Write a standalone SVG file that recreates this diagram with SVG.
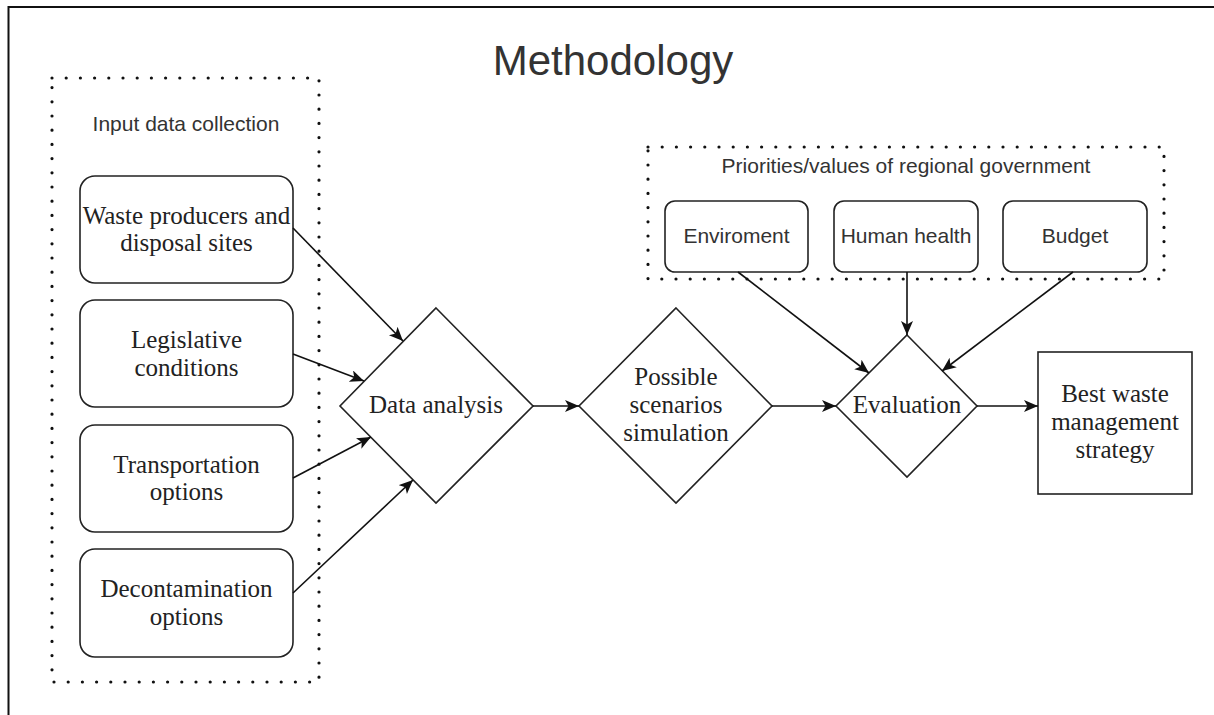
<svg xmlns="http://www.w3.org/2000/svg" width="1214" height="715" viewBox="0 0 1214 715">
<style>
.frame{fill:none;stroke:#111;stroke-width:2}
.dot{fill:none;stroke:#111;stroke-width:3.2;stroke-linecap:round;stroke-dasharray:0 14.2}
.box{fill:#fff;stroke:#222;stroke-width:1.6}
.serif{font-family:"Liberation Serif","Times New Roman",serif;font-size:25px;fill:#222;text-anchor:middle}
.sans{font-family:"Liberation Sans",Arial,sans-serif;fill:#333;text-anchor:middle}
.conn{fill:none;stroke:#111;stroke-width:1.6}
</style>
<defs>
<marker id="arr" markerUnits="userSpaceOnUse" markerWidth="16" markerHeight="14" refX="14" refY="6" orient="auto">
<path d="M0,0 L14,6 L0,12 L3.5,6 Z" fill="#111"/>
</marker>
</defs>
<rect width="1214" height="715" fill="#fff"/>
<path class="frame" d="M8.5,715 V7 H1214"/>
<text class="sans" x="613" y="75" font-size="42" fill="#111">Methodology</text>

<g id="input-group">
<rect class="dot" x="52" y="78" width="267" height="604"/>
<text class="sans" x="186" y="131" font-size="21">Input data collection</text>
</g>
<g id="priorities-group">
<rect class="dot" x="648" y="147" width="516" height="132"/>
<text class="sans" x="906" y="173" font-size="21" fill="#222">Priorities/values of regional government</text>
</g>

<g id="waste">
<rect class="box" x="80" y="176" width="213" height="107" rx="15"/>
<text class="serif" x="186.5" y="223.5">Waste producers and</text>
<text class="serif" x="186.5" y="250.5">disposal sites</text>
</g>
<g id="legislative">
<rect class="box" x="80" y="300" width="213" height="107" rx="15"/>
<text class="serif" x="186.5" y="348">Legislative</text>
<text class="serif" x="186.5" y="376">conditions</text>
</g>
<g id="transportation">
<rect class="box" x="80" y="425" width="213" height="107" rx="15"/>
<text class="serif" x="186.5" y="473">Transportation</text>
<text class="serif" x="186.5" y="500">options</text>
</g>
<g id="decontamination">
<rect class="box" x="80" y="549" width="213" height="108" rx="15"/>
<text class="serif" x="186.5" y="597">Decontamination</text>
<text class="serif" x="186.5" y="625">options</text>
</g>

<g id="data-analysis">
<polygon class="box" points="436,308 533,406 436,503 340,406"/>
<text class="serif" x="436" y="413">Data analysis</text>
</g>
<g id="scenarios">
<polygon class="box" points="676,308 772,406 676,503 579,406"/>
<text class="serif" x="676" y="385">Possible</text>
<text class="serif" x="676" y="413">scenarios</text>
<text class="serif" x="676" y="441">simulation</text>
</g>
<g id="evaluation">
<polygon class="box" points="907,335 977,406 907,477 836,406"/>
<text class="serif" x="907" y="413">Evaluation</text>
</g>
<g id="best">
<rect class="box" x="1038" y="352" width="154" height="142"/>
<text class="serif" x="1115" y="402">Best waste</text>
<text class="serif" x="1115" y="430">management</text>
<text class="serif" x="1115" y="458">strategy</text>
</g>

<g id="environment">
<rect class="box" x="665" y="201" width="143" height="71" rx="10"/>
<text class="sans" x="736.5" y="243" font-size="21" fill="#111">Enviroment</text>
</g>
<g id="human-health">
<rect class="box" x="834" y="201" width="144" height="71" rx="10"/>
<text class="sans" x="906" y="243" font-size="21">Human health</text>
</g>
<g id="budget">
<rect class="box" x="1003" y="201" width="144" height="71" rx="10"/>
<text class="sans" x="1075" y="243" font-size="21">Budget</text>
</g>

<g id="connectors">
<line class="conn" x1="293" y1="228" x2="403" y2="341" marker-end="url(#arr)"/>
<line class="conn" x1="293" y1="354" x2="364" y2="381" marker-end="url(#arr)"/>
<line class="conn" x1="293" y1="478" x2="371" y2="437" marker-end="url(#arr)"/>
<line class="conn" x1="293" y1="593" x2="413" y2="480" marker-end="url(#arr)"/>
<line class="conn" x1="533" y1="406" x2="579" y2="406" marker-end="url(#arr)"/>
<line class="conn" x1="772" y1="406" x2="836" y2="406" marker-end="url(#arr)"/>
<line class="conn" x1="977" y1="406" x2="1038" y2="406" marker-end="url(#arr)"/>
<line class="conn" x1="738" y1="272" x2="869" y2="373" marker-end="url(#arr)"/>
<line class="conn" x1="907" y1="272" x2="907" y2="335" marker-end="url(#arr)"/>
<line class="conn" x1="1073" y1="272" x2="942" y2="371" marker-end="url(#arr)"/>
</g>
</svg>
